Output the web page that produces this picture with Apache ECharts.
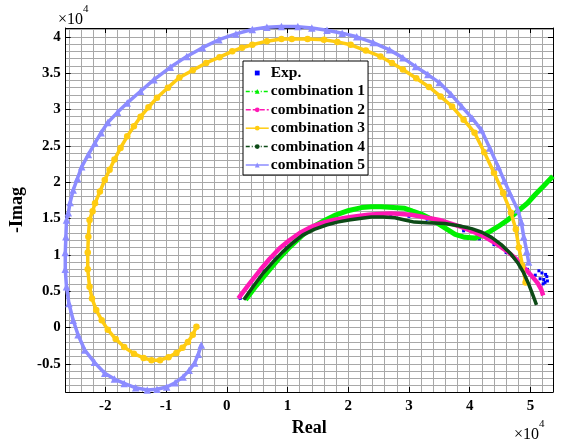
<!DOCTYPE html>
<html><head><meta charset="utf-8">
<script src="https://cdn.jsdelivr.net/npm/echarts@6/dist/echarts.min.js"></script>
<style>html,body{margin:0;padding:0;background:#fff}#c{width:561px;height:443px}</style>
</head><body><div id="c"></div>
<script>
// values in units of 1e4 (axes carry the x10^4 multiplier)
const seriesNames = ['Exp.', 'combination 1', 'combination 2', 'combination 3', 'combination 4', 'combination 5'];
const expData = [[0.22,0.40],[0.40,0.62],[0.58,0.80],[0.76,0.97],[0.95,1.13],[1.15,1.27],[1.35,1.36],[1.55,1.42],[1.84,1.46],[2.10,1.51],[2.40,1.54],[2.70,1.55],[3.00,1.53],[3.30,1.49],[3.60,1.43],[3.90,1.33],[4.16,1.22],[4.40,1.14],[4.60,1.03],[4.80,0.90],[4.95,0.80],[5.08,0.72],[5.16,0.67],[5.22,0.66],[5.27,0.70],[5.24,0.62],[5.19,0.75],[5.28,0.64],[5.14,0.78],[5.25,0.73],[5.21,0.60]];
const comb1 = [[0.31,0.38],[0.48,0.57],[0.66,0.75],[0.85,0.94],[1.04,1.11],[1.22,1.25],[1.41,1.38],[1.60,1.47],[1.80,1.55],[2.01,1.61],[2.22,1.65],[2.38,1.66],[2.54,1.66],[2.74,1.65],[2.93,1.64],[3.06,1.60],[3.20,1.56],[3.35,1.50],[3.50,1.42],[3.63,1.35],[3.76,1.28],[3.92,1.24],[4.08,1.23],[4.20,1.26],[4.31,1.31],[4.47,1.39],[4.63,1.48],[4.79,1.60],[4.95,1.71],[5.08,1.83],[5.21,1.94],[5.37,2.08]];
const comb2 = [[0.19,0.40],[0.37,0.60],[0.55,0.79],[0.71,0.95],[0.87,1.09],[1.03,1.20],[1.20,1.30],[1.38,1.38],[1.57,1.44],[1.76,1.48],[1.96,1.51],[2.14,1.53],[2.33,1.55],[2.51,1.56],[2.70,1.57],[2.87,1.56],[3.03,1.55],[3.17,1.53],[3.30,1.51],[3.50,1.48],[3.69,1.43],[3.87,1.38],[4.05,1.32],[4.24,1.25],[4.44,1.15],[4.63,1.04],[4.77,0.94],[4.89,0.83],[5.01,0.72],[5.12,0.61],[5.18,0.52],[5.21,0.44]];
const comb3 = [[-0.50,0.01],[-0.56,-0.10],[-0.64,-0.20],[-0.73,-0.28],[-0.83,-0.35],[-0.96,-0.41],[-1.10,-0.45],[-1.24,-0.45],[-1.37,-0.42],[-1.53,-0.36],[-1.69,-0.27],[-1.83,-0.16],[-1.96,-0.03],[-2.06,0.10],[-2.15,0.24],[-2.22,0.40],[-2.26,0.56],[-2.29,0.80],[-2.29,1.03],[-2.28,1.25],[-2.26,1.48],[-2.21,1.60],[-2.17,1.71],[-2.09,1.87],[-2.01,2.03],[-1.93,2.17],[-1.85,2.31],[-1.75,2.47],[-1.64,2.63],[-1.53,2.77],[-1.42,2.90],[-1.29,3.03],[-1.15,3.16],[-0.97,3.30],[-0.78,3.44],[-0.56,3.54],[-0.34,3.64],[-0.12,3.72],[0.09,3.80],[0.25,3.85],[0.42,3.89],[0.66,3.94],[0.90,3.97],[1.07,3.97],[1.33,3.97],[1.60,3.96],[1.82,3.93],[2.04,3.89],[2.29,3.81],[2.53,3.73],[2.72,3.64],[2.90,3.55],[3.12,3.43],[3.33,3.31],[3.52,3.18],[3.71,3.04],[3.90,2.86],[4.08,2.68],[4.24,2.41],[4.40,2.13],[4.55,1.85],[4.68,1.58],[4.76,1.35],[4.81,1.10],[4.87,0.85],[4.92,0.62]];
const comb4 = [[0.28,0.38],[0.44,0.57],[0.60,0.75],[0.76,0.90],[0.92,1.04],[1.08,1.16],[1.25,1.27],[1.44,1.35],[1.64,1.41],[1.82,1.45],[2.01,1.48],[2.19,1.50],[2.38,1.52],[2.57,1.52],[2.77,1.51],[2.93,1.48],[3.09,1.45],[3.30,1.44],[3.59,1.43],[3.82,1.40],[4.03,1.36],[4.20,1.31],[4.36,1.24],[4.52,1.14],[4.68,1.01],[4.80,0.88],[4.89,0.75],[4.97,0.60],[5.03,0.47],[5.07,0.38],[5.10,0.31]];
const comb5 = [[-0.42,-0.24],[-0.47,-0.37],[-0.53,-0.49],[-0.62,-0.59],[-0.72,-0.68],[-0.85,-0.76],[-0.99,-0.82],[-1.15,-0.85],[-1.31,-0.86],[-1.50,-0.83],[-1.69,-0.77],[-1.85,-0.71],[-2.01,-0.63],[-2.18,-0.48],[-2.34,-0.31],[-2.45,-0.10],[-2.53,0.10],[-2.60,0.33],[-2.64,0.56],[-2.66,0.80],[-2.66,1.03],[-2.65,1.25],[-2.64,1.48],[-2.61,1.58],[-2.58,1.72],[-2.53,1.89],[-2.46,2.05],[-2.39,2.21],[-2.28,2.38],[-2.17,2.54],[-2.07,2.68],[-1.96,2.82],[-1.80,2.96],[-1.64,3.09],[-1.42,3.25],[-1.20,3.41],[-0.93,3.58],[-0.66,3.73],[-0.40,3.85],[-0.13,3.96],[0.15,4.04],[0.42,4.10],[0.66,4.13],[0.90,4.14],[1.17,4.14],[1.40,4.12],[1.65,4.09],[1.90,4.05],[2.14,4.00],[2.41,3.92],[2.68,3.82],[2.90,3.71],[3.11,3.59],[3.31,3.48],[3.50,3.37],[3.69,3.21],[3.87,3.04],[4.04,2.88],[4.19,2.72],[4.33,2.47],[4.47,2.21],[4.57,2.02],[4.66,1.85],[4.79,1.62],[4.85,1.45],[4.89,1.25],[4.94,1.05],[4.97,0.90]];
const xRange = [-2.654, 5.372];
const yRange = [-0.888, 4.121];

const FONT = '"Liberation Serif", "Times New Roman", serif';
const chart = echarts.init(document.getElementById('c'), null, {renderer: 'canvas'});
const gridCol = '#a8a8a8';
function mainAxis(pos, range, split, minorN, isX) {
  return {
    type: 'value', position: pos, min: range[0], max: range[1], splitNumber: split,
    axisLine: {show: true, onZero: false, lineStyle: {color: '#000', width: 1}},
    axisTick: {show: true, inside: true, length: 5, lineStyle: {color: '#000'}},
    axisLabel: {show: true, showMinLabel: false, showMaxLabel: false, color: '#000',
      fontFamily: FONT, fontWeight: 'bold', fontSize: 15, margin: isX ? 7 : 5},
    splitLine: {show: true, lineStyle: {color: gridCol, width: 1}},
    minorTick: {show: false, splitNumber: minorN},
    minorSplitLine: {show: true, lineStyle: {color: gridCol, width: 1}},
    name: isX ? 'Real' : '-Imag', nameLocation: 'middle', nameGap: isX ? 26 : 36,
    nameTextStyle: {color: '#000', fontFamily: FONT, fontWeight: 'bold', fontSize: 18}
  };
}
function boxAxis(pos, range, split) {
  return {
    type: 'value', position: pos, min: range[0], max: range[1], splitNumber: split,
    axisLine: {show: true, onZero: false, lineStyle: {color: '#000', width: 1}},
    axisTick: {show: true, inside: true, length: 5, lineStyle: {color: '#000'}},
    axisLabel: {show: false}, splitLine: {show: false}
  };
}
chart.setOption({
  animation: false,
  grid: {left: 57, right: 8, top: 28, bottom: 51, containLabel: false},
  xAxis: [mainAxis('bottom', xRange, 8, 5, true), boxAxis('top', xRange, 8)],
  yAxis: [mainAxis('left', yRange, 10, 5, false), boxAxis('right', yRange, 10)],
  legend: {
    orient: 'vertical', left: 243, top: 61,
    backgroundColor: '#fff', borderColor: '#000', borderWidth: 1, borderRadius: 0,
    padding: [4, 3, 2, 2], itemWidth: 23, itemHeight: 6, itemGap: 2.4,
    textStyle: {color: '#000', fontFamily: FONT, fontWeight: 'bold', fontSize: 15.5, lineHeight: 15, padding: [0,0,0,-3]},
    data: [
      {name: seriesNames[0]},
      {name: seriesNames[1], lineStyle: {width: 1.5, type: [4, 2, 1, 2]}},
      {name: seriesNames[2], lineStyle: {width: 1.5, type: [5, 2]}},
      {name: seriesNames[3], lineStyle: {width: 1.5, type: 'solid'}},
      {name: seriesNames[4], lineStyle: {width: 1.5, type: [4, 2, 1, 2]}},
      {name: seriesNames[5], lineStyle: {width: 1.5, type: 'solid'}}
    ]
  },
  graphic: [
    {type: 'text', left: 58, top: 4, style: {text: '{a|×10}{b|4}', rich: {
      a: {fontFamily: FONT, fontSize: 16, fill: '#000', verticalAlign: 'bottom', padding: [8,0,0,0]},
      b: {fontFamily: FONT, fontSize: 11, fill: '#000', verticalAlign: 'top'}}}},
    {type: 'text', left: 514, top: 419, style: {text: '{a|×10}{b|4}', rich: {
      a: {fontFamily: FONT, fontSize: 16, fill: '#000', verticalAlign: 'bottom', padding: [8,0,0,0]},
      b: {fontFamily: FONT, fontSize: 11, fill: '#000', verticalAlign: 'top'}}}}
  ],
  series: [
    {name: seriesNames[0], type: 'line', data: expData, symbol: 'rect', symbolSize: 3,
      itemStyle: {color: '#0000ff'}, lineStyle: {width: 0, opacity: 0}, z: 2},
    {name: seriesNames[1], type: 'line', data: comb1, symbol: 'triangle', symbolSize: 5, showSymbol: false,
      itemStyle: {color: '#00f000'}, lineStyle: {width: 5, color: '#00f000'}, z: 3},
    {name: seriesNames[2], type: 'line', data: comb2, symbol: 'circle', symbolSize: 4, showSymbol: false,
      itemStyle: {color: '#ff18b4'}, lineStyle: {width: 4.5, color: '#ff18b4'}, z: 4},
    {name: seriesNames[3], type: 'line', data: comb3, symbol: 'circle', symbolSize: 6.5, clip: false,
      itemStyle: {color: '#ffcc11'}, lineStyle: {width: 3.5, color: '#ffcc11'}, z: 5},
    {name: seriesNames[4], type: 'line', data: comb4, symbol: 'circle', symbolSize: 3, showSymbol: false,
      itemStyle: {color: '#0c4a16'}, lineStyle: {width: 3.5, color: '#0c4a16'}, z: 6},
    {name: seriesNames[5], type: 'line', data: comb5, symbol: 'triangle', symbolSize: 7.5, clip: false,
      itemStyle: {color: '#8c8cff'}, lineStyle: {width: 3.5, color: '#8c8cff'}, z: 7}
  ]
});
</script></body></html>
